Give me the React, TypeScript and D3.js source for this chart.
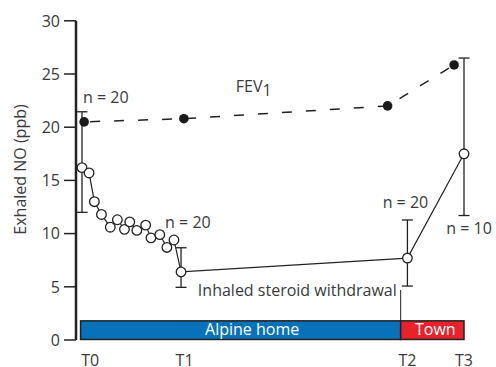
import React from "react";
import * as d3 from "d3";

const W = 496;
const H = 367;

// Exhaled NO (open circles), time in days
const noDays = [0, 2, 3.5, 5.5, 8, 10, 12, 13.5, 15.5, 18, 19.5, 22, 24, 26, 28, 92, 108];
const noValues = [16.2, 15.7, 13.0, 11.8, 10.6, 11.3, 10.4, 11.1, 10.3, 10.8, 9.6, 9.9, 8.7, 9.4, 6.4, 7.7, 17.5];

// FEV1 (filled circles, dashed)
const fevDays = [0.6, 28.8, 86.4, 105.2];
const fevValues = [20.5, 20.8, 22.0, 25.85];

// Error bars
const errDays = [0, 28, 92, 108];
const errLow = [12.0, 4.95, 5.07, 11.7];
const errHigh = [21.45, 8.67, 11.28, 26.5];

// Time labels
const timeLabels = ["T0", "T1", "T2", "T3"];
const timeLabelDays = [2.3, 29, 92, 108];

const yTicks = [0, 5, 10, 15, 20, 25, 30];

// Periods
const periodNames = ["Alpine home", "Town"];
const periodStart = [-0.4, 90.1];
const periodEnd = [90.1, 108];
const periodLabelDay = [48.1, 99.9];
const periodColors = ["#0772ba", "#e8222b"];

const FONT = "'Open Sans', sans-serif";
const TXT = "#3a3a3a";

export default function App() {
  const x = d3.scaleLinear().domain([0, 108]).range([82, 464]);
  const y = d3.scaleLinear().domain([0, 30]).range([340, 20.8]);

  const noLine = d3
    .line<number>()
    .x((_, i) => x(noDays[i]))
    .y((d) => y(d));
  const fevLine = d3
    .line<number>()
    .x((_, i) => x(fevDays[i]))
    .y((d) => y(d));

  const axisX = 76;
  const capHalf = 5.5;

  return (
    <svg
      width={W}
      height={H}
      style={{ position: "absolute", left: 0, top: 0, background: "#fff" }}
      fontFamily={FONT}
    >
      {/* Period bars */}
      {periodNames.map((p, i) => (
        <g key={p}>
          <rect
            x={x(periodStart[i])}
            y={y(1.8)}
            width={x(periodEnd[i]) - x(periodStart[i])}
            height={y(0.05) - y(1.8)}
            fill={periodColors[i]}
            stroke="#222"
            strokeWidth={1.5}
          />
          <text
            x={x(periodLabelDay[i])}
            y={y(0.45)}
            textAnchor="middle"
            fill="#fff"
            fontSize={16}
          >
            {p}
          </text>
        </g>
      ))}

      {/* Y axis */}
      <line x1={axisX} x2={axisX} y1={y(30)} y2={y(0)} stroke="#222" strokeWidth={2.5} />
      {yTicks.map((t) => (
        <g key={t}>
          <line x1={axisX - 12} x2={axisX} y1={y(t)} y2={y(t)} stroke="#222" strokeWidth={1.5} />
          <text x={60} y={y(t)} dy="0.36em" textAnchor="end" fontSize={16} fill={TXT}>
            {t}
          </text>
        </g>
      ))}
      <text
        transform={`translate(26, ${169.5}) rotate(-90)`}
        textAnchor="middle"
        fontSize={16}
        fill={TXT}
      >
        Exhaled NO (ppb)
      </text>

      {/* Time labels */}
      {timeLabels.map((t, i) => (
        <text key={t} x={x(timeLabelDays[i])} y={366} textAnchor="middle" fontSize={16} fill={TXT}>
          {t}
        </text>
      ))}

      {/* Steroid withdrawal marker */}
      <line x1={x(90.1)} x2={x(90.1)} y1={y(4.7)} y2={y(1.8)} stroke="#222" strokeWidth={1} />

      {/* Error bars */}
      {errDays.map((d, i) => (
        <g key={i} stroke="#222" strokeWidth={1.3}>
          <line x1={x(d)} x2={x(d)} y1={y(errLow[i])} y2={y(errHigh[i])} />
          <line x1={x(d) - capHalf} x2={x(d) + capHalf} y1={y(errLow[i])} y2={y(errLow[i])} />
          <line x1={x(d) - capHalf} x2={x(d) + capHalf} y1={y(errHigh[i])} y2={y(errHigh[i])} />
        </g>
      ))}

      {/* FEV1 dashed line */}
      <path
        d={fevLine(fevValues) || ""}
        fill="none"
        stroke="#222"
        strokeWidth={1.5}
        strokeDasharray="10 14"
        strokeDashoffset={-6}
      />
      {fevValues.map((v, i) => (
        <circle key={i} cx={x(fevDays[i])} cy={y(v)} r={4.8} fill="#1a1a1a" />
      ))}

      {/* NO line */}
      <path d={noLine(noValues) || ""} fill="none" stroke="#222" strokeWidth={1.2} />
      {noValues.map((v, i) => (
        <circle key={i} cx={x(noDays[i])} cy={y(v)} r={4.8} fill="#fff" stroke="#222" strokeWidth={1.3} />
      ))}

      {/* Annotations */}
      <text x={x(0.3)} y={y(22.3)} fontSize={16} fill={TXT}>n = 20</text>
      <text x={x(43.5)} y={y(23.35)} fontSize={16} fill={TXT}>
        FEV<tspan fontSize={16} dy={4}>1</tspan>
      </text>
      <text x={x(23.5)} y={y(10.5)} fontSize={16} fill={TXT}>n = 20</text>
      <text x={x(89)} y={y(4.1)} fontSize={16} fill={TXT} textAnchor="end">
        Inhaled steroid withdrawal
      </text>
      <text x={x(85)} y={y(12.4)} fontSize={16} fill={TXT}>n = 20</text>
      <text x={x(103)} y={y(10.0)} fontSize={16} fill={TXT}>n = 10</text>
    </svg>
  );
}
